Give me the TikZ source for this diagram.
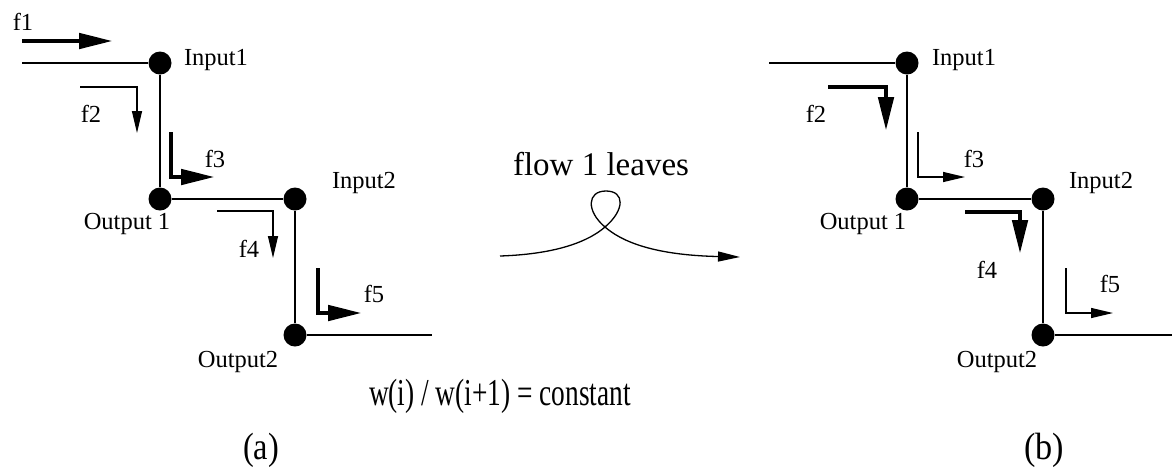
\documentclass[tikz,border=0pt]{standalone}
\usepackage{fontspec}
\setmainfont{Liberation Serif}
\usepackage{graphicx}
\usetikzlibrary{arrows.meta,positioning}

\tikzset{
  dot/.style={circle, fill=black, inner sep=0pt, minimum size=11.5pt},
  wire/.style={line width=0.65pt},
  thinflow/.style={line width=0.65pt, -{Triangle[length=11pt,width=5pt]}},
  thickflow/.style={line width=2.4pt, -{Triangle[length=17pt,width=7.5pt]}},
  lbl/.style={inner sep=0pt, anchor=base, font=\fontsize{12.25pt}{14pt}\selectfont},
  biglbl/.style={inner sep=0pt, anchor=base, font=\fontsize{19pt}{23pt}\selectfont},
}

\begin{document}
\begin{tikzpicture}[x=0.5pt, y=-0.5pt]
        \useasboundingbox (0,0) rectangle (1172,468);

        % Panel (a): nodes
        \node[dot] (in1a) at (160,63) {};
        \node[dot] (out1a) at (160,199) {};
        \node[dot] (in2a) at (295,199) {};
        \node[dot] (out2a) at (295,335) {};
        \coordinate (srca) at (22,63);
        \coordinate (sinka) at (432,335);
        \draw[wire] (srca) -- (in1a) -- (out1a) -- (in2a) -- (out2a) -- (sinka);

        % Panel (a): labels
        \node[lbl] (in1alab) at (216,65) {Input1};
        \node[lbl] (out1alab) at (127,229) {Output 1};
        \node[lbl] (in2alab) at (364,188) {Input2};
        \node[lbl] (out2alab) at (238,367) {Output2};

        % Panel (a): flows
        \draw[thickflow] (22,41) -- (113,41);
        \draw[thinflow] (80,87) -- (137,87) -- (137,133);
        \draw[thickflow] (171,132) -- (171,177) -- (215,177);
        \draw[thinflow] (217,211) -- (273,211) -- (273,258);
        \draw[thickflow] (318,268) -- (318,313) -- (362,313);
        \node[lbl] (f1a) at (23,30) {f1};
        \node[lbl] (f2a) at (91,122) {f2};
        \node[lbl] (f3a) at (215,167) {f3};
        \node[lbl] (f4a) at (249,257) {f4};
        \node[lbl] (f5a) at (374,302) {f5};

        % Middle: flow 1 leaves
        \node[lbl, font=\fontsize{16.5pt}{20pt}\selectfont] (leaves) at (601,175) {flow 1 leaves};
        \coordinate (loopin) at (500,256);
        \coordinate (loopout) at (740,257);
        \draw[thinflow] (loopin) .. controls (560,254) and (590,240) .. (605,227)
            .. controls (625,210) and (625,191) .. (606,191)
            .. controls (587,191) and (586,211) .. (605,227)
            .. controls (620,240) and (650,255) .. (loopout);

        % Panel (b): nodes
        \node[dot] (in1b) at (907,63) {};
        \node[dot] (out1b) at (907,199) {};
        \node[dot] (in2b) at (1043,199) {};
        \node[dot] (out2b) at (1043,335) {};
        \coordinate (srcb) at (769,63);
        \coordinate (sinkb) at (1172,335);
        \draw[wire] (srcb) -- (in1b) -- (out1b) -- (in2b) -- (out2b) -- (sinkb);

        % Panel (b): labels
        \node[lbl] (in1blab) at (964,65) {Input1};
        \node[lbl] (out1blab) at (863,229) {Output 1};
        \node[lbl] (in2blab) at (1101,188) {Input2};
        \node[lbl] (out2blab) at (997,367) {Output2};

        % Panel (b): flows
        \draw[thickflow] (828,87) -- (886,87) -- (886,131);
        \draw[thinflow] (918,132) -- (918,177) -- (965,177);
        \draw[thickflow] (965,212) -- (1020,212) -- (1020,254);
        \draw[thinflow] (1066,268) -- (1066,313) -- (1113,313);
        \node[lbl] (f2b) at (816,122) {f2};
        \node[lbl] (f3b) at (974,167) {f3};
        \node[lbl] (f4b) at (987,278) {f4};
        \node[lbl] (f5b) at (1110,292) {f5};

        % Captions
        \node[biglbl] (ratio) at (500,405) {\scalebox{0.72}[1]{w(i) / w(i+1) = constant}};
        \node[biglbl] (capa) at (261,459) {\scalebox{0.85}[1]{(a)}};
        \node[biglbl] (capb) at (1044,459) {\scalebox{0.9}[1]{(b)}};
    \end{tikzpicture}
\end{document}
